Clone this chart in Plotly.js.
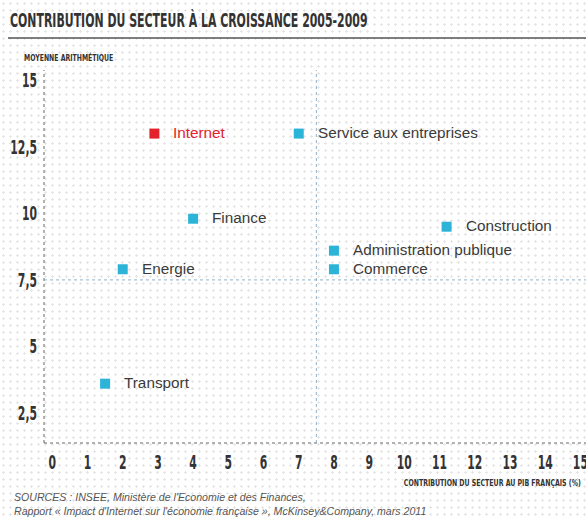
<!DOCTYPE html>
<html>
<head>
<meta charset="utf-8">
<script src="https://cdn.plot.ly/plotly-3.0.1.min.js"></script>
<style>
  html, body { margin: 0; padding: 0; }
  body {
    width: 586px; height: 517px; overflow: hidden;
    background-color: #ffffff;
    background-image: radial-gradient(circle, #e6e6e6 1px, rgba(255,255,255,0) 1.3px);
    background-size: 7px 7px;
  }
  #chart { width: 586px; height: 517px; }
</style>
</head>
<body>
<div id="chart"></div>
<script>
// ---- Data ----
const sectors = ["Internet", "Service aux entreprises", "Finance", "Energie", "Transport", "Construction", "Administration publique", "Commerce"];
const pibContribution = [2.9, 7.0, 4.0, 2.0, 1.5, 11.2, 8.0, 8.0];        // x: contribution au PIB (%)
const growthMean = [13.0, 13.0, 9.8, 7.9, 3.6, 9.5, 8.6, 7.9];            // y: moyenne arithmétique
const highlighted = ["Internet"];
const xTickVals = [0, 1, 2, 3, 4, 5, 6, 7, 8, 9, 10, 11, 12, 13, 14, 15];
const yTickVals = [2.5, 5, 7.5, 10, 12.5, 15];
const yTickText = ["2,5", "5", "7,5", "10", "12,5", "15"];
const refX = 7.5;
const refY = 7.5;

// ---- Styles ----
const narrow = "DejaVu Sans Condensed, Liberation Sans Narrow, Arial Narrow, sans-serif";
const sans = "Liberation Sans, Arial, Helvetica, sans-serif";
const blue = "#2bb3d8";
const red = "#e3222b";

const colors = sectors.map(s => highlighted.includes(s) ? red : blue);

const trace = {
  type: "scatter",
  mode: "markers",
  x: pibContribution,
  y: growthMean,
  marker: { symbol: "square", size: 10, color: colors, line: { width: 0 } },
  cliponaxis: false,
  hoverinfo: "skip"
};

const labelAnnotations = sectors.map((s, i) => ({
  x: pibContribution[i], y: growthMean[i], xref: "x", yref: "y",
  text: s, showarrow: false, xanchor: "left", yanchor: "middle", xshift: 17, yshift: 1,
  font: { family: sans, size: 15.3, color: highlighted.includes(s) ? red : "#3a3a3a" }
}));
const nLabels = labelAnnotations.length;

const layout = {
  width: 586, height: 517,
  margin: { l: 44, r: 0, t: 70, b: 74 },
  paper_bgcolor: "rgba(0,0,0,0)",
  plot_bgcolor: "rgba(0,0,0,0)",
  showlegend: false,
  title: {
    text: "CONTRIBUTION DU SECTEUR À LA CROISSANCE 2005-2009",
    xref: "container", yref: "container",
    x: 10 / 586, xanchor: "left",
    y: 1 - 20 / 517, yanchor: "middle",
    font: { family: narrow, size: 19, color: "#333333", weight: 700 }
  },
  xaxis: {
    range: [-0.236, 15.16], showgrid: false, zeroline: false, showline: false,
    tickmode: "array", tickvals: xTickVals, ticks: "",
    ticklabelstandoff: 5, ticklabeloverflow: "allow",
    tickfont: { family: narrow, size: 20, color: "#333333", weight: 700 },
    fixedrange: true
  },
  yaxis: {
    range: [1.37, 15.39], showgrid: false, zeroline: false, showline: false,
    tickmode: "array", tickvals: yTickVals, ticktext: yTickText, ticks: "",
    ticklabelstandoff: 6, ticklabeloverflow: "allow",
    tickfont: { family: narrow, size: 20, color: "#333333", weight: 700 },
    fixedrange: true
  },
  shapes: [
    { type: "line", xref: "paper", yref: "paper", x0: -36 / 542, x1: 1, y0: 1 + 32 / 373, y1: 1 + 32 / 373,
      line: { color: "#555555", width: 1.4 } },
    { type: "line", xref: "paper", yref: "paper", x0: 0, x1: 0, y0: 0, y1: 1,
      line: { color: "#666666", width: 1, dash: "dot" } },
    { type: "line", xref: "paper", yref: "paper", x0: 0, x1: 1, y0: 0, y1: 0,
      line: { color: "#666666", width: 1, dash: "dot" } },
    { type: "line", xref: "x", yref: "paper", x0: refX, x1: refX, y0: 0, y1: 1,
      line: { color: "#8fb0c8", width: 1, dash: "dot" } },
    { type: "line", xref: "paper", yref: "y", x0: 0, x1: 1, y0: refY, y1: refY,
      line: { color: "#8fb0c8", width: 1, dash: "dot" } }
  ],
  annotations: labelAnnotations.concat([
    { xref: "paper", yref: "paper", x: -22 / 542, y: 1 + 12 / 373, xanchor: "left", yanchor: "middle", align: "left",
      text: "MOYENNE ARITHMÉTIQUE", showarrow: false,
      font: { family: narrow, size: 8, color: "#333333", weight: 700 } },
    { xref: "paper", yref: "paper", x: 1 - 3 / 542, y: -40 / 373, xanchor: "right", yanchor: "middle", align: "right",
      text: "CONTRIBUTION DU SECTEUR AU PIB FRANÇAIS (%)", showarrow: false,
      font: { family: narrow, size: 9, color: "#333333", weight: 700 } },
    { xref: "paper", yref: "paper", x: -32 / 542, y: -54 / 373, xanchor: "left", yanchor: "middle",
      text: "<i>SOURCES : INSEE, Ministère de l'Economie et des Finances,</i>", showarrow: false,
      font: { family: sans, size: 10.6, color: "#555555" } },
    { xref: "paper", yref: "paper", x: -32 / 542, y: -68 / 373, xanchor: "left", yanchor: "middle",
      text: "<i>Rapport « Impact d'Internet sur l'économie française », McKinsey&Company, mars 2011</i>", showarrow: false,
      font: { family: sans, size: 10.6, color: "#555555" } }
  ])
};

// Narrow the condensed display texts horizontally (reference uses a very condensed typeface)
function squeeze(el, factor) {
  const w = el.getComputedTextLength();
  if (w > 0) {
    el.setAttribute("textLength", (w * factor).toFixed(2));
    el.setAttribute("lengthAdjust", "spacingAndGlyphs");
  }
}

Plotly.newPlot("chart", [trace], layout, { displayModeBar: false, staticPlot: true }).then(gd => {
  gd.querySelectorAll(".gtitle").forEach(el => squeeze(el, 0.64));
  gd.querySelectorAll(".xtick text, .ytick text").forEach(el => squeeze(el, 0.6));
  gd.querySelectorAll(".annotation").forEach(g => {
    const idx = +g.getAttribute("data-index");
    const t = g.querySelector("text");
    if (!t) return;
    if (idx === nLabels) squeeze(t, 0.86);
    if (idx === nLabels + 1) squeeze(t, 0.77);
  });
});
</script>
</body>
</html>
